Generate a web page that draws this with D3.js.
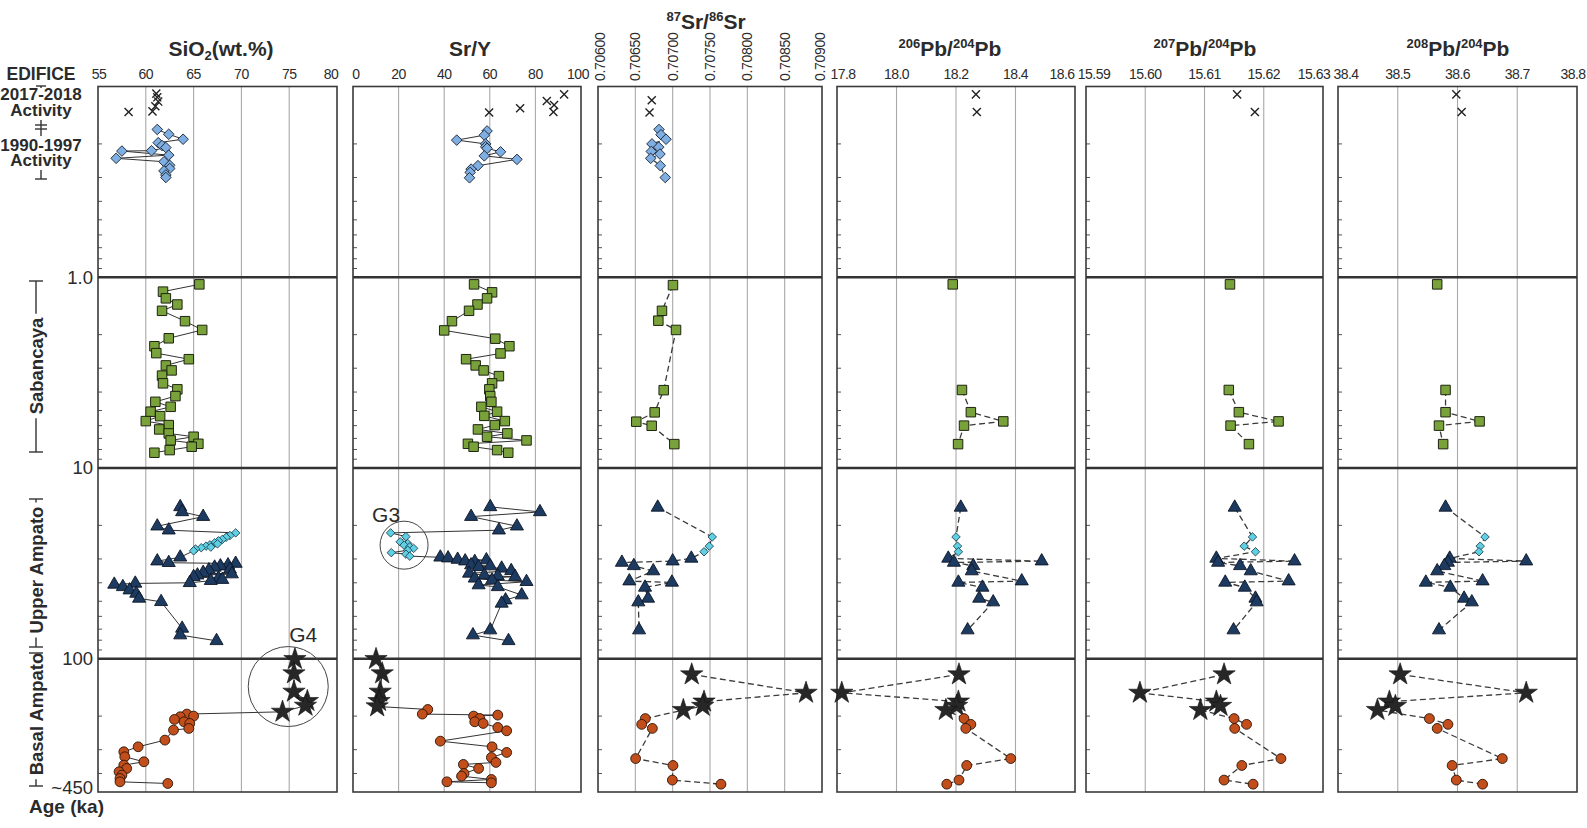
<!DOCTYPE html>
<html><head><meta charset="utf-8">
<script src="https://cdn.jsdelivr.net/npm/d3@7"></script>
<style>
body{margin:0;background:#fff;}
svg text{font-family:"Liberation Sans",Arial,sans-serif;fill:#2b2b2b;}
</style></head><body>
<svg id="c" width="1587" height="828"></svg>
<script>
// ---------------- DATA ----------------
// Age axis (ka, log)
const ageBandLabels = ["1.0","10","100","~450"];
const ageBandValues = [1,10,100,500];

// Tick values / labels
const sio2Ticks = [55,60,65,70,75,80];
const srYTicks = [0,20,40,60,80,100];
const srTicks = [0.706,0.7065,0.707,0.7075,0.708,0.7085,0.709];
const srTickLabels = ["0.70600","0.70650","0.70700","0.70750","0.70800","0.70850","0.70900"];
const pb206Ticks = [17.8,18.0,18.2,18.4,18.6];
const pb206TickLabels = ["17.8","18.0","18.2","18.4","18.6"];
const pb207Ticks = [15.59,15.60,15.61,15.62,15.63];
const pb207TickLabels = ["15.59","15.60","15.61","15.62","15.63"];
const pb208Ticks = [38.4,38.5,38.6,38.7,38.8];
const pb208TickLabels = ["38.4","38.5","38.6","38.7","38.8"];

// ---- SiO2 (wt.%) : [value, age ka]
const sio2Recent = [[61.1,0.109],[61.2,0.114],[61.3,0.120],[61.0,0.127],[60.7,0.135],[58.2,0.136]];
const sio2Eruption90s = [[61.2,0.168],[62.4,0.178],[63.9,0.189],[61.3,0.197],[61.7,0.204],[62.1,0.209],[60.6,0.217],[57.5,0.218],[62.4,0.229],[56.9,0.238],[61.9,0.248],[62.5,0.259],[62.5,0.269],[61.9,0.277],[62.1,0.291],[62.1,0.300]];
const sio2Sabancaya = [[65.6,1.09],[61.8,1.19],[62.1,1.29],[63.3,1.39],[61.7,1.50],[64.1,1.70],[65.9,1.89],[62.4,2.09],[60.9,2.30],[61.1,2.50],[64.5,2.69],[62.1,2.90],[62.7,3.08],[61.7,3.28],[61.8,3.60],[63.3,3.87],[63.1,4.20],[61.0,4.50],[62.6,4.78],[60.5,5.07],[61.5,5.35],[60.0,5.68],[62.4,5.96],[61.4,6.28],[62.4,6.59],[65.0,6.86],[62.6,7.17],[65.5,7.47],[64.8,7.74],[62.5,8.06],[60.9,8.32]];
const sio2UpperAmpato = [[63.6,16.0],[63.8,17.0],[66.0,18.0],[61.2,20.2],[62.4,21.2],[63.6,29.4],[61.2,30.8],[62.4,31.4],[69.4,31.7],[68.6,32.3],[67.8,32.7],[67.2,33.2],[68.8,34.0],[66.6,34.3],[66.0,35.4],[69.0,36.0],[65.4,36.5],[65.0,37.2],[67.6,37.9],[68.0,38.5],[66.8,39.0],[64.6,40.0],[58.9,40.3],[56.7,40.8],[57.6,42.0],[58.3,43.7],[59.0,45.5],[59.3,48.3],[61.6,50.3],[63.8,69.4],[63.6,75.2],[67.4,80.6]];
const sio2G3 = [[69.4,21.9],[68.8,22.6],[68.4,23.1],[68.0,23.7],[67.6,24.1],[67.2,24.7],[67.5,25.0],[66.7,25.3],[66.3,25.7],[66.8,26.0],[65.8,26.2],[65.2,26.6],[65.0,27.2]];
const sio2BasalStars = [[75.6,100.5],[75.5,119.5],[75.5,149.1],[76.9,166.9],[76.7,176.6],[74.3,189.9]];
const sio2BasalCircles = [[64.3,195.2],[65.0,200.0],[63.6,201.6],[63.0,208.2],[64.0,214.2],[64.6,218.6],[64.5,232.1],[62.9,236.8],[62.0,267.3],[59.2,289.7],[57.7,307.7],[57.8,326.8],[59.8,347.1],[57.7,361.4],[58.0,376.3],[57.2,391.7],[57.5,407.9],[57.3,424.6],[57.3,442.1],[62.3,451.1]];

// ---- Sr/Y : [value, age ka]
const srYRecent = [[92.6,0.110],[85.0,0.119],[88.2,0.125],[73.3,0.130],[87.9,0.136],[59.7,0.137]];
const srYEruption90s = [[58.8,0.171],[57.6,0.180],[45.5,0.191],[58.2,0.200],[58.2,0.207],[58.8,0.211],[64.7,0.220],[57.6,0.231],[71.9,0.241],[54.8,0.260],[51.8,0.271],[51.4,0.282],[51.1,0.301]];
const srYSabancaya = [[53.1,1.09],[61.0,1.20],[58.8,1.29],[54.6,1.39],[50.9,1.50],[43.4,1.70],[40.0,1.90],[62.4,2.10],[68.6,2.30],[64.7,2.51],[49.6,2.69],[53.8,2.90],[57.3,3.08],[64.0,3.30],[61.0,3.60],[59.8,3.87],[60.2,4.20],[60.7,4.50],[56.3,4.78],[63.2,5.07],[57.6,5.33],[66.6,5.68],[62.2,5.96],[54.8,6.28],[67.7,6.59],[58.8,6.86],[76.1,7.17],[50.4,7.47],[52.9,7.74],[63.2,8.06],[68.1,8.32]];
const srYUpperAmpato = [[60.2,16.0],[82.0,17.0],[51.8,18.0],[71.9,20.2],[64.0,21.2],[38.3,29.4],[41.7,29.7],[45.9,30.2],[58.5,30.4],[49.2,30.8],[53.4,31.0],[51.8,32.3],[60.2,32.7],[55.1,33.0],[65.2,33.6],[69.4,34.6],[50.9,35.7],[57.6,36.5],[63.5,36.9],[71.1,37.2],[53.4,37.9],[61.0,38.7],[76.1,39.5],[55.1,41.1],[63.5,42.0],[74.0,46.4],[66.9,49.3],[65.2,51.3],[60.2,70.8],[52.6,75.2],[68.2,80.6]];
const srYG3 = [[16.5,21.9],[23.2,22.9],[20.7,24.4],[24.0,24.9],[22.4,25.4],[24.9,25.9],[26.6,26.4],[24.0,27.0],[16.8,27.8],[23.2,28.3],[24.9,29.0]];
const srYBasalStars = [[10.1,100.5],[12.8,119.5],[11.9,149.1],[11.4,166.9],[10.6,178.0]];
const srYBasalCircles = [[32.8,184.6],[30.4,195.2],[63.5,197.6],[52.9,200.0],[55.6,205.7],[53.4,214.2],[57.1,218.6],[63.5,229.4],[67.4,238.8],[38.3,270.6],[61.0,289.7],[67.4,310.2],[60.7,329.5],[62.7,349.9],[48.4,358.5],[55.1,376.3],[48.7,399.7],[47.6,412.8],[60.7,429.8],[41.2,442.1],[60.7,447.4]];

// ---- 87Sr/86Sr : [value, age ka]
const srRecent = [[0.70672,0.118],[0.70669,0.137]];
const srEruption90s = [[0.706817,0.168],[0.706844,0.179],[0.706911,0.189],[0.706723,0.200],[0.706813,0.208],[0.706714,0.219],[0.706830,0.226],[0.706706,0.238],[0.706834,0.260],[0.706901,0.300]];
const srSabancaya = [[0.707004,1.10],[0.706857,1.50],[0.706808,1.69],[0.707045,1.89],[0.706880,3.91],[0.706759,5.11],[0.706513,5.72],[0.706719,6.01],[0.707022,7.50]];

// ---- Shared sample ages for the isotope columns (ka)
const isoRecentAges = [0.110, 0.136];
const isoSabTopAge = [1.09];
const isoSabAges = [3.90, 5.10, 5.70, 6.00, 7.50];
const isoUAAges = [16.1, 29.8, 30.8, 31.3, 32.6, 34.7, 39.2, 39.8, 42.3, 48.3, 50.5, 70.8];
const isoG3Ages = [23.0, 25.7, 27.5];
const isoStarAges = [121, 151, 168, 177, 186];
const isoCircleAges = [206, 221, 232, 334, 363, 433, 455];

// 87Sr/86Sr for shared samples
const srUA = [0.70680, 0.70725, 0.70700, 0.70632, 0.70648, 0.70674, 0.70642, 0.70699, 0.70663, 0.70667, 0.70654, 0.70655];
const srG3 = [0.70753, 0.70749, 0.70742];
const srStars = [0.707255, 0.708786, 0.707420, 0.707402, 0.707143];
const srCircles = [0.706634, 0.706585, 0.706728, 0.706504, 0.707004, 0.706996, 0.707647];

// 206Pb/204Pb
const pb206Recent = [18.267, 18.270];
const pb206SabTop = [18.189];
const pb206Sab = [18.220, 18.250, 18.359, 18.227, 18.207];
const pb206UA = [18.216, 18.174, 18.488, 18.193, 18.258, 18.253, 18.421, 18.208, 18.289, 18.278, 18.325, 18.239];
const pb206G3 = [18.200, 18.205, 18.208];
const pb206Stars = [18.210, 17.816, 18.208, 18.202, 18.166];
const pb206Circles = [18.227, 18.250, 18.233, 18.384, 18.236, 18.210, 18.169];

// 207Pb/204Pb
const pb207Recent = [15.6155, 15.6185];
const pb207SabTop = [15.6143];
const pb207Sab = [15.6141, 15.6158, 15.6225, 15.6144, 15.6175];
const pb207UA = [15.6151, 15.6120, 15.6252, 15.6123, 15.6160, 15.6178, 15.6242, 15.6135, 15.6168, 15.6186, 15.6188, 15.6149];
const pb207G3 = [15.6181, 15.6167, 15.6186];
const pb207Stars = [15.6133, 15.5991, 15.6120, 15.6127, 15.6093];
const pb207Circles = [15.6150, 15.6171, 15.6151, 15.6229, 15.6163, 15.6133, 15.6182];

// 208Pb/204Pb
const pb208Recent = [38.598, 38.607];
const pb208SabTop = [38.566];
const pb208Sab = [38.580, 38.580, 38.637, 38.569, 38.576];
const pb208UA = [38.580, 38.587, 38.715, 38.584, 38.578, 38.566, 38.642, 38.547, 38.588, 38.611, 38.624, 38.569];
const pb208G3 = [38.646, 38.638, 38.636];
const pb208Stars = [38.504, 38.715, 38.486, 38.496, 38.466];
const pb208Circles = [38.553, 38.584, 38.566, 38.675, 38.591, 38.598, 38.642];

// ---------------- CHART ----------------
const svg = d3.select("#c");
const yTop = 86.5, yBot = 792;
const y = d3.scaleLog().domain([0.1, 500]).range([yTop, yBot]);
const pair = (vals, ages) => vals.map((v,i)=>[v, ages[i]]);

function isoSeries(rec, top, sab, ua, g3, stars, circles){
  const s = [
    {pts: pair(rec, isoRecentAges), sym:"cross"},
    {pts: pair(sab, isoSabAges), sym:"square", chain:"b"},
    {pts: pair(ua, isoUAAges), sym:"triangle", chain:"c"},
    {pts: pair(g3, isoG3Ages), sym:"g3", chain:"c"},
    {pts: pair(stars, isoStarAges), sym:"star", chain:"d"},
    {pts: pair(circles, isoCircleAges), sym:"circle", chain:"d"}
  ];
  if (top) s.splice(1,0,{pts: pair(top, isoSabTopAge), sym:"square"});
  return s;
}

const panels = [
  {x0:98, x1:337, domain:[55,80], ticks:sio2Ticks, labels:sio2Ticks.map(String), dashed:false, edge:[1,-6],
   series:[
    {pts:sio2Recent, sym:"cross"},
    {pts:sio2Eruption90s, sym:"diamond", chain:"a"},
    {pts:sio2Sabancaya, sym:"square", chain:"b"},
    {pts:sio2UpperAmpato, sym:"triangle", chain:"c"},
    {pts:sio2G3, sym:"g3", chain:"c"},
    {pts:sio2BasalStars, sym:"star", chain:"d"},
    {pts:sio2BasalCircles, sym:"circle", chain:"d"}]},
  {x0:353, x1:581, domain:[0,100], ticks:srYTicks, labels:srYTicks.map(String), dashed:false, edge:[3,-3],
   series:[
    {pts:srYRecent, sym:"cross"},
    {pts:srYEruption90s, sym:"diamond", chain:"a"},
    {pts:srYSabancaya, sym:"square", chain:"b"},
    {pts:srYUpperAmpato, sym:"triangle", chain:"c"},
    {pts:srYG3, sym:"g3", chain:"c"},
    {pts:srYBasalStars, sym:"star", chain:"d"},
    {pts:srYBasalCircles, sym:"circle", chain:"d"}]},
  {x0:598, x1:822, domain:[0.706,0.709], ticks:srTicks, labels:srTickLabels, dashed:true, rotated:true, edge:[2,-2],
   series:[
    {pts:srRecent, sym:"cross"},
    {pts:srEruption90s, sym:"diamond", chain:"a"},
    {pts:srSabancaya, sym:"square", chain:"b"},
    {pts:pair(srUA, isoUAAges), sym:"triangle", chain:"c"},
    {pts:pair(srG3, isoG3Ages), sym:"g3", chain:"c"},
    {pts:pair(srStars, isoStarAges), sym:"star", chain:"d"},
    {pts:pair(srCircles, isoCircleAges), sym:"circle", chain:"d"}]},
  {x0:837, x1:1075, domain:[17.8,18.6], ticks:pb206Ticks, labels:pb206TickLabels, dashed:true, edge:[6,-13],
   series: isoSeries(pb206Recent, pb206SabTop, pb206Sab, pb206UA, pb206G3, pb206Stars, pb206Circles)},
  {x0:1086, x1:1323, domain:[15.59,15.63], ticks:pb207Ticks, labels:pb207TickLabels, dashed:true, edge:[8,-9],
   series: isoSeries(pb207Recent, pb207SabTop, pb207Sab, pb207UA, pb207G3, pb207Stars, pb207Circles)},
  {x0:1338, x1:1577, domain:[38.4,38.8], ticks:pb208Ticks, labels:pb208TickLabels, dashed:true, edge:[8,-4],
   series: isoSeries(pb208Recent, pb208SabTop, pb208Sab, pb208UA, pb208G3, pb208Stars, pb208Circles)}
];

const symStyle = {
  cross:   {type:d3.symbolTimes, size:44, fill:"none", stroke:"#222", sw:1.4},
  diamond: {type:d3.symbolSquare, size:56, fill:"#7eaee2", stroke:"#1e2a38", sw:0.9, rot:45},
  square:  {type:d3.symbolSquare, size:90, fill:"#79a23a", stroke:"#1d2410", sw:1},
  triangle:{type:d3.symbolTriangle, size:74, fill:"#1d3a60", stroke:"#0d1626", sw:0.9},
  g3:      {type:d3.symbolSquare, size:36, fill:"#5fd0e3", stroke:"#1d3a48", sw:0.8, rot:45},
  star:    {type:d3.symbolStar, size:155, fill:"#272727", stroke:"#111", sw:0.6},
  circle:  {type:d3.symbolCircle, size:76, fill:"#c24f1b", stroke:"#2a1408", sw:0.9}
};

// minor age ticks
const minorAges = [];
[0.1,1,10,100].forEach(d=>{for(let m=2;m<=9;m++){const v=m*d; if(v<500) minorAges.push(v);}});

panels.forEach(p=>{
  const x = d3.scaleLinear().domain(p.domain).range([p.x0, p.x1]);
  const g = svg.append("g");
  g.selectAll(".grid").data(p.ticks.slice(1,-1)).join("line")
    .attr("x1",d=>x(d)).attr("x2",d=>x(d)).attr("y1",yTop).attr("y2",yBot)
    .attr("stroke","#a9a9a9").attr("stroke-width",1.1);
  g.selectAll(".mt").data(minorAges).join("line")
    .attr("x1",p.x0).attr("x2",p.x0+4).attr("y1",d=>y(d)).attr("y2",d=>y(d))
    .attr("stroke","#555").attr("stroke-width",1);
  g.append("rect").attr("x",p.x0).attr("y",yTop).attr("width",p.x1-p.x0).attr("height",yBot-yTop)
    .attr("fill","none").attr("stroke","#3a3a3a").attr("stroke-width",1.6);
  g.selectAll(".band").data([1,10,100]).join("line")
    .attr("x1",p.x0).attr("x2",p.x1).attr("y1",d=>y(d)).attr("y2",d=>y(d))
    .attr("stroke","#333").attr("stroke-width",2.6);
  const n = p.ticks.length;
  const shift = i => i===0 ? p.edge[0] : (i===n-1 ? p.edge[1] : 0);
  if (p.rotated){
    g.selectAll(".tl").data(p.ticks).join("text")
      .attr("transform",(d,i)=>`translate(${x(d)+shift(i)},81) rotate(-90)`)
      .attr("text-anchor","start").attr("dominant-baseline","central")
      .attr("font-size",14).attr("letter-spacing",-0.3).attr("fill","#3a3a3a").text((d,i)=>p.labels[i]);
  } else {
    g.selectAll(".tl").data(p.ticks).join("text")
      .attr("x",(d,i)=>x(d)+shift(i)).attr("y",79).attr("text-anchor","middle")
      .attr("font-size",14).attr("letter-spacing",-0.5).attr("fill","#3a3a3a").text((d,i)=>p.labels[i]);
  }
  const chains = {};
  p.series.forEach(s=>{ if(s.chain){ (chains[s.chain] = chains[s.chain]||[]).push(...s.pts); } });
  const line = d3.line().x(d=>x(d[0])).y(d=>y(d[1]));
  Object.values(chains).forEach(pts=>{
    const sorted = pts.slice().sort((a,b)=>a[1]-b[1]);
    g.append("path").attr("d",line(sorted)).attr("fill","none")
      .attr("stroke", p.dashed ? "#3c3c3c" : "#333")
      .attr("stroke-width", p.dashed ? 1.3 : 1)
      .attr("stroke-dasharray", p.dashed ? "6,3.5" : null);
  });
  p.series.forEach(s=>{
    const st = symStyle[s.sym];
    const gen = d3.symbol(st.type, st.size);
    g.selectAll(null).data(s.pts).join("path")
      .attr("d", gen())
      .attr("transform", d=>`translate(${x(d[0])},${y(d[1])})` + (st.rot?` rotate(${st.rot})`:""))
      .attr("fill", st.fill).attr("stroke", st.stroke).attr("stroke-width", st.sw);
  });
  p.x = x;
});

// G3 and G4 annotations
const xSr = panels[1].x, xSi = panels[0].x;
const g3c = [22.4, 25.4], g4c = [74.9, 140];
svg.append("circle").attr("cx",xSr(g3c[0])).attr("cy",y(g3c[1])).attr("r",24)
  .attr("fill","none").attr("stroke","#444").attr("stroke-width",1);
svg.append("text").attr("x",xSr(g3c[0])-18).attr("y",y(g3c[1])-23).attr("text-anchor","middle")
  .attr("font-size",21).attr("fill","#333").text("G3");
svg.append("circle").attr("cx",xSi(g4c[0])).attr("cy",y(g4c[1])).attr("r",40)
  .attr("fill","none").attr("stroke","#444").attr("stroke-width",1);
svg.append("text").attr("x",xSi(g4c[0])+15).attr("y",y(g4c[1])-45).attr("text-anchor","middle")
  .attr("font-size",21).attr("fill","#333").text("G4");

// Titles
function title(cx, yb, parts){
  const t = svg.append("text").attr("x",cx).attr("y",yb).attr("text-anchor","middle")
    .attr("font-weight","bold").attr("font-size",21).attr("fill","#222");
  parts.forEach(pt=>{
    const ts = t.append("tspan").text(pt.t);
    if (pt.sup){ ts.attr("font-size",13).attr("dy",-8); }
    else if (pt.sub){ ts.attr("font-size",13).attr("dy",4); }
    if (pt.after) ts.attr("dy", pt.after);
  });
}
title(221, 56, [{t:"SiO"},{t:"2",sub:true},{t:"(wt.%)",after:-4}]);
title(470, 56, [{t:"Sr/Y"}]);
title(706, 29, [{t:"87",sup:true},{t:"Sr/",after:8},{t:"86",sup:true},{t:"Sr",after:8}]);
title(950, 56, [{t:"206",sup:true},{t:"Pb/",after:8},{t:"204",sup:true},{t:"Pb",after:8}]);
title(1205, 56, [{t:"207",sup:true},{t:"Pb/",after:8},{t:"204",sup:true},{t:"Pb",after:8}]);
title(1458, 56, [{t:"208",sup:true},{t:"Pb/",after:8},{t:"204",sup:true},{t:"Pb",after:8}]);

// Left-side labels
const lab = (x, yb, txt, size, bold, anchor) => svg.append("text").attr("x",x).attr("y",yb)
  .attr("text-anchor",anchor||"middle").attr("font-size",size).attr("font-weight",bold?"bold":null)
  .attr("fill","#2b2b2b").text(txt);
lab(41, 80, "EDIFICE", 17.5, true);
lab(41, 100, "2017-2018", 17, true);
lab(41, 116, "Activity", 17, true);
lab(41, 151, "1990-1997", 17, true);
lab(41, 166, "Activity", 17, true);
const ln = (x1,y1,x2,y2)=>svg.append("line").attr("x1",x1).attr("y1",y1).attr("x2",x2).attr("y2",y2)
  .attr("stroke","#333").attr("stroke-width",1.4);
ln(36,86,46,86); ln(41,86,41,88);
ln(41,120,41,136); ln(35,125,47,125); ln(35,129,47,129);
ln(41,170,41,179); ln(35,179,47,179);

// Age band labels
ageBandLabels.forEach((t,i)=>{
  const yy = i<3 ? y(ageBandValues[i]) : y(ageBandValues[i]) - 5;
  svg.append("text").attr("x",93).attr("y",yy).attr("text-anchor","end")
    .attr("dominant-baseline","central").attr("font-size",18.5).attr("fill","#2b2b2b").text(t);
});
lab(29, 813, "Age (ka)", 19, true, "start");

// Edifice brackets (vertical)
function bracket(top, bottom, cy, txt){
  const bx = 36;
  const t = svg.append("text").attr("transform",`translate(${bx},${cy}) rotate(-90)`)
    .attr("text-anchor","middle").attr("dominant-baseline","central")
    .attr("font-size",18.5).attr("font-weight","bold").attr("fill","#2b2b2b").text(txt);
  const half = t.node().getComputedTextLength()/2;
  ln(bx-7, top, bx+7, top); ln(bx-7, bottom, bx+7, bottom);
  if (cy-half-4 > top) ln(bx, top, bx, cy-half-4);
  if (cy+half+4 < bottom) ln(bx, cy+half+4, bx, bottom);
}
bracket(281, 452, 366, "Sabancaya");
bracket(499, 647, 570, "Upper Ampato");
bracket(653, 786, 714, "Basal Ampato");
</script>
</body></html>
